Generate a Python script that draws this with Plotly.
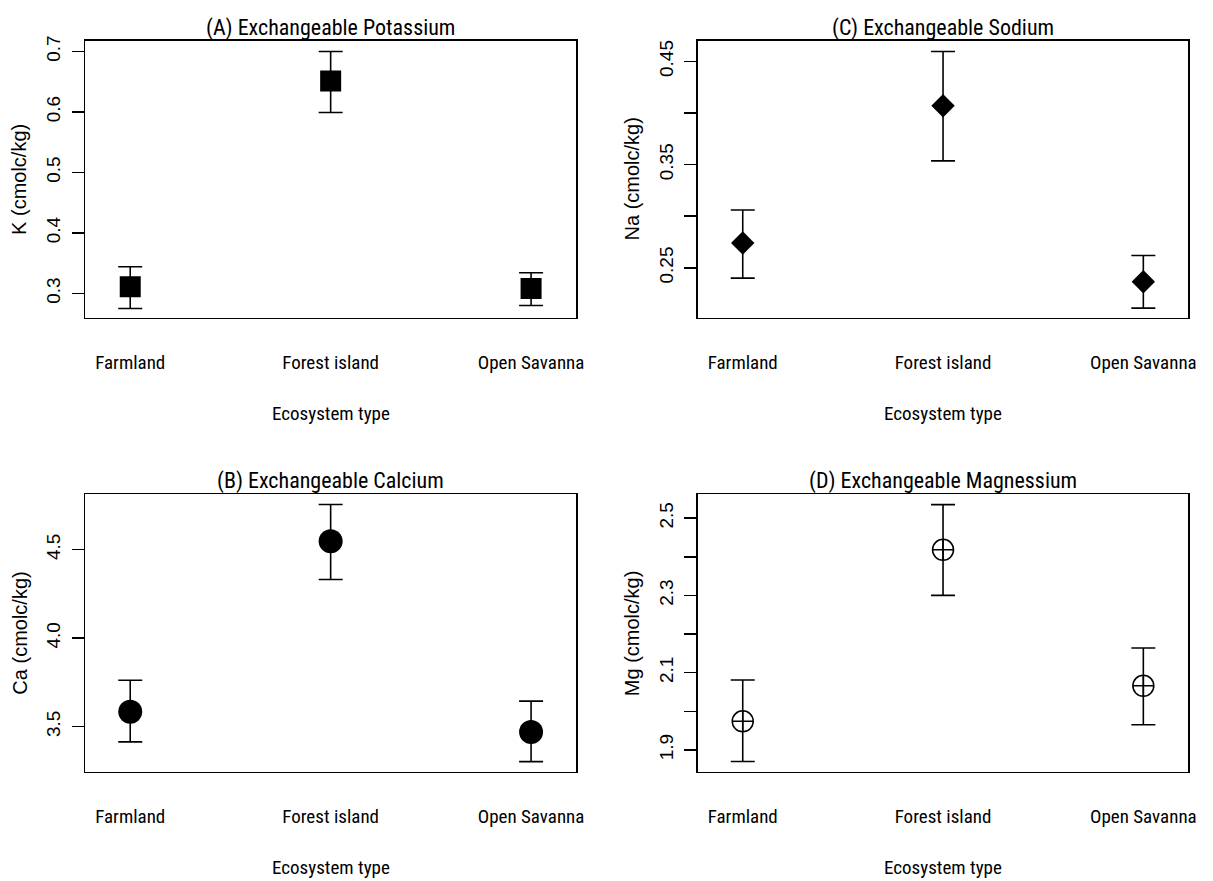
import plotly.graph_objects as go

# ---------------- data ----------------
categories = ["Farmland", "Forest island", "Open Savanna"]
cat_pos = [1, 2, 3]

k_mean = [0.311, 0.651, 0.308]
k_upper = [0.344, 0.700, 0.334]
k_lower = [0.275, 0.599, 0.280]

na_mean = [0.274, 0.407, 0.2365]
na_upper = [0.306, 0.4596, 0.262]
na_lower = [0.240, 0.3536, 0.211]

ca_mean = [3.584, 4.547, 3.470]
ca_upper = [3.762, 4.755, 3.644]
ca_lower = [3.414, 4.331, 3.302]

mg_mean = [1.974, 2.418, 2.066]
mg_upper = [2.081, 2.535, 2.164]
mg_lower = [1.870, 2.300, 1.965]

panel_titles = ["(A) Exchangeable Potassium", "(C) Exchangeable Sodium",
                "(B) Exchangeable Calcium", "(D) Exchangeable Magnessium"]
y_titles = ["K (cmolc/kg)", "Na (cmolc/kg)", "Ca (cmolc/kg)", "Mg (cmolc/kg)"]
x_title = "Ecosystem type"

k_ticks = [0.3, 0.4, 0.5, 0.6, 0.7]
k_ticktext = ["0.3", "0.4", "0.5", "0.6", "0.7"]
na_ticks = [0.25, 0.30, 0.35, 0.40, 0.45]
na_ticktext = ["0.25", "", "0.35", "", "0.45"]
ca_ticks = [3.5, 4.0, 4.5]
ca_ticktext = ["3.5", "4.0", "4.5"]
mg_ticks = [1.9, 2.0, 2.1, 2.2, 2.3, 2.4, 2.5]
mg_ticktext = ["1.9", "", "2.1", "", "2.3", "", "2.5"]

# ---------------- layout geometry ----------------
W, H = 1213, 881
NARROW = "Liberation Sans Narrow, Arial Narrow, Roboto Condensed, DejaVu Sans Condensed, sans-serif"
REG = "Liberation Sans, Arial, Helvetica, sans-serif"

# pixel boxes: (left, right, top, bottom)
boxes = [
    (85.7, 580.0, 36.0, 314.7),     # A
    (702.3, 1196.3, 36.0, 314.7),   # C
    (85.7, 580.0, 492.0, 771.3),    # B
    (702.3, 1196.3, 492.0, 771.3),  # D
]
y_ranges = [[0.2594, 0.7176], [0.2015, 0.4699], [3.244, 4.813], [1.843, 2.562]]
x_range = [0.775, 3.225]

panels = [
    (k_mean, k_upper, k_lower, "square", 21, k_ticks, k_ticktext),
    (na_mean, na_upper, na_lower, "diamond", 18, na_ticks, na_ticktext),
    (ca_mean, ca_upper, ca_lower, "circle", 24, ca_ticks, ca_ticktext),
    (mg_mean, mg_upper, mg_lower, "circle-cross-open", 21, mg_ticks, mg_ticktext),
]

fig = go.Figure()
layout = dict(
    width=W, height=H,
    margin=dict(l=0, r=0, t=0, b=0),
    paper_bgcolor="white", plot_bgcolor="white",
    showlegend=False,
    annotations=[],
)

for i, (mean, up, lo, sym, msize, tv, tt) in enumerate(panels):
    n = "" if i == 0 else str(i + 1)
    xa, ya = "x" + n, "y" + n
    err_plus = [u - m for u, m in zip(up, mean)]
    err_minus = [m - l for m, l in zip(mean, lo)]
    filled = not sym.endswith("open")
    fig.add_trace(go.Scatter(
        x=cat_pos, y=mean, mode="markers", xaxis=xa, yaxis=ya,
        marker=dict(symbol=sym, size=msize, color="black",
                    line=dict(color="black", width=1.5 if not filled else 0)),
        error_y=dict(type="data", symmetric=False, array=err_plus,
                     arrayminus=err_minus, color="black", thickness=1.6, width=12),
        hoverinfo="skip",
    ))
    l, r, t, b = boxes[i]
    xd = [l / W, r / W]
    yd = [1 - b / H, 1 - t / H]
    layout["xaxis" + n] = dict(
        domain=xd, range=x_range, anchor=ya,
        showline=True, mirror=True, linecolor="black", linewidth=1.5,
        showgrid=False, zeroline=False, ticks="",
        tickvals=cat_pos, ticktext=categories,
        tickfont=dict(family=NARROW, size=19, color="black"),
        ticklabelstandoff=27,
    )
    layout["yaxis" + n] = dict(
        domain=yd, range=y_ranges[i], anchor=xa,
        showline=True, mirror=True, linecolor="black", linewidth=1.5,
        showgrid=False, zeroline=False,
        ticks="outside", ticklen=12, tickwidth=1.5, tickcolor="black",
        tickvals=tv, ticktext=tt, tickangle=-90,
        tickfont=dict(family=REG, size=19, color="black"),
        ticklabelstandoff=4,
    )
    cx = (l + r) / 2
    layout["annotations"].append(dict(
        text=panel_titles[i], xref="paper", yref="paper",
        x=cx / W, y=1 - (t - 13) / H, xanchor="center", yanchor="middle",
        showarrow=False, font=dict(family=NARROW, size=22, color="black"),
    ))
    layout["annotations"].append(dict(
        text=x_title, xref="paper", yref="paper",
        x=cx / W, y=1 - (b + 96) / H, xanchor="center", yanchor="middle",
        showarrow=False, font=dict(family=NARROW, size=19, color="black"),
    ))
    layout["annotations"].append(dict(
        text=y_titles[i], xref="paper", yref="paper",
        x=(l - 66) / W, y=1 - ((t + b) / 2) / H, xanchor="center", yanchor="middle",
        textangle=-90, showarrow=False,
        font=dict(family=REG, size=20, color="black"),
    ))

fig.update_layout(**layout)
fig.write_html("out.html",
               config={"displayModeBar": False, "staticPlot": True},
               post_script="document.body.style.margin='0';document.body.style.overflow='hidden';")
